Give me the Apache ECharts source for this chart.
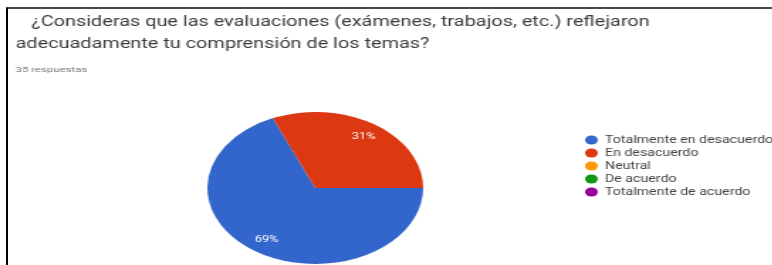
<!DOCTYPE html>
<html>
<head>
<meta charset="utf-8">
<script src="https://cdn.jsdelivr.net/npm/echarts@6/dist/echarts.min.js"></script>
<style>
    html, body {margin: 0; padding: 0; background: #fff; overflow: hidden; width: 772px; height: 265px;}
    /* la captura original esta estirada en horizontal: se dibuja estrecha y se estira */
    #main {position: absolute; left: 0; top: 0; width: 544px; height: 265px;
        transform: scaleX(1.42); transform-origin: 0 0;}
    #frame {position: absolute; left: 6px; top: 7px; width: 780px; height: 270px;
        border-top: 2px solid #4a4a4a; border-left: 2px solid #000;}
</style>
</head>
<body>
<div id="main"></div>
<div id="frame"></div>
<script>
    const titleLines = [
        '¿Consideras que las evaluaciones (exámenes, trabajos, etc.) reflejaron',
        'adecuadamente tu comprensión de los temas?'
    ];
    const subtitle = '35 respuestas';
    const categories = ['Totalmente en desacuerdo', 'En desacuerdo', 'Neutral', 'De acuerdo', 'Totalmente de acuerdo'];
    const counts = [24, 11, 0, 0, 0];
    const colors = ['#3366cc', '#dc3912', '#ff9900', '#109618', '#990099'];

    const pieData = categories.map((name, i) => ({name, value: counts[i]}));
    const font = 'Roboto, "Liberation Sans", Arial, sans-serif';
    const pieCenter = [222, 188];

    const chart = echarts.init(document.getElementById('main'), null, {renderer: 'canvas'});
    chart.setOption({
        animation: false,
        color: colors,
        graphic: [
            {type: 'text', left: 22, top: 15, style: {text: titleLines[0], fill: '#3c3c3c', font: '14px ' + font}},
            {type: 'text', left: 11, top: 37, style: {text: titleLines[1], fill: '#3c3c3c', font: '14px ' + font}},
            {type: 'text', left: 11, top: 66, style: {text: subtitle, fill: '#777', font: '8px ' + font}}
        ],
        legend: {
            orient: 'vertical',
            left: 407,
            top: 130,
            icon: 'circle',
            itemWidth: 9,
            itemHeight: 9,
            itemGap: 3,
            textStyle: {color: '#444', fontSize: 10, lineHeight: 9, fontFamily: font},
            data: categories
        },
        series: [{
            // anillo exterior: lleva las etiquetas un poco hacia fuera
            type: 'pie',
            center: pieCenter,
            radius: [42, 76],
            startAngle: 0,
            clockwise: true,
            percentPrecision: 0,
            label: {
                show: true,
                position: 'inside',
                formatter: p => p.value > 0 ? p.percent + '%' : '',
                color: '#fff',
                fontSize: 9,
                fontFamily: font
            },
            labelLine: {show: false},
            emphasis: {disabled: true},
            data: pieData
        }, {
            // relleno interior del mismo pastel
            type: 'pie',
            center: pieCenter,
            radius: [0, 45],
            startAngle: 0,
            clockwise: true,
            silent: true,
            label: {show: false},
            labelLine: {show: false},
            emphasis: {disabled: true},
            data: pieData
        }]
    });
</script>
</body>
</html>
